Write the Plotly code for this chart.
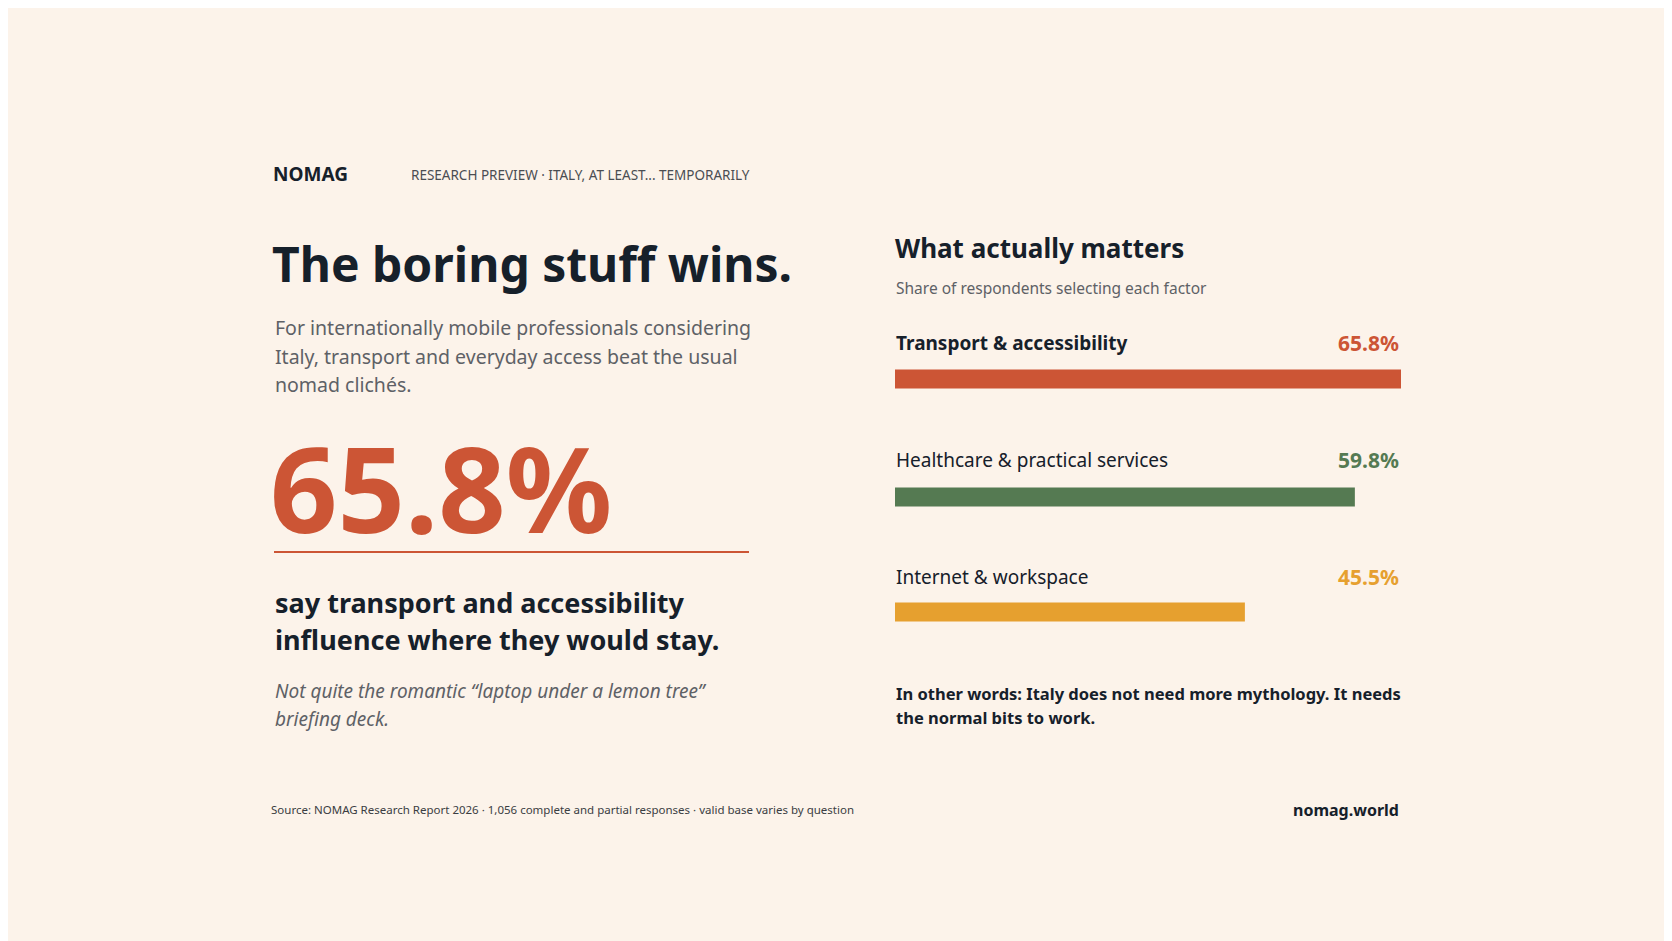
import plotly.graph_objects as go

W, H = 1672, 941
categories = ["Transport & accessibility", "Healthcare & practical services", "Internet & workspace"]
values = [65.8, 59.8, 45.5]
value_labels = ["65.8%", "59.8%", "45.5%"]
colors = ["#cc5535", "#557a52", "#e6a02f"]
bar_y = [371, 489, 604]
label_y = [335, 452, 569]

BG = "#fcf3ea"
DARK = "#16202a"
GREY = "#5e6166"
FONT = "Noto Sans"
D = 8  # page offset compensation

fig = go.Figure()
fig.add_trace(go.Bar(x=values, y=bar_y, orientation="h", width=19,
                     marker=dict(color=colors, line=dict(width=0)), hoverinfo="skip"))

X0, X1 = 887, 1393
fig.update_layout(
    width=W, height=H, margin=dict(l=0, r=0, t=0, b=0),
    paper_bgcolor=BG, plot_bgcolor=BG, showlegend=False,
    xaxis=dict(domain=[X0 / W, X1 / W], range=[0, max(values)], visible=False, fixedrange=True),
    yaxis=dict(domain=[0, 1], range=[H, 0], visible=False, fixedrange=True),
)

ann = []
def t(x, y, text, size, color=DARK, bold=False, italic=False, xanchor="left"):
    s = text
    if bold:
        s = "<b>" + s + "</b>"
    if italic:
        s = "<i>" + s + "</i>"
    ann.append(dict(x=x / W, y=1 - y / H, xref="paper", yref="paper", text=s, showarrow=False,
                    xanchor=xanchor, yanchor="middle", align="left",
                    font=dict(family=FONT, size=size, color=color)))

t(263, 166, "NOMAG", 19, bold=True)
t(401, 167, "RESEARCH PREVIEW · ITALY, AT LEAST... TEMPORARILY", 13.5, color="#4a4d52")
t(262, 256, "The boring stuff wins.", 48, bold=True)
t(265, 319, "For internationally mobile professionals considering", 19.5, color=GREY)
t(265, 348, "Italy, transport and everyday access beat the usual", 19.5, color=GREY)
t(265, 376, "nomad clichés.", 19.5, color=GREY)
t(260, 479, "65.8%", 118, color="#cc5535", bold=True)
t(265, 594, "say transport and accessibility", 27, bold=True)
t(265, 631, "influence where they would stay.", 27, bold=True)
t(265, 683, "Not quite the romantic “laptop under a lemon tree”", 19, color=GREY, italic=True)
t(265, 711, "briefing deck.", 19, color=GREY, italic=True)

t(885, 240, "What actually matters", 26, bold=True)
t(886, 280, "Share of respondents selecting each factor", 15.5, color=GREY)
for i, c in enumerate(categories):
    t(886, label_y[i], c, 19, bold=(i == 0))
    t(X1, label_y[i], value_labels[i], 21, color=colors[i], bold=True, xanchor="right")

t(886, 685, "In other words: Italy does not need more mythology. It needs", 16.5, bold=True)
t(886, 709, "the normal bits to work.", 16.5, bold=True)

t(261, 801, "Source: NOMAG Research Report 2026 · 1,056 complete and partial responses · valid base varies by question", 11.5, color="#3a3d42")
t(X1, 802, "nomag.world", 16, bold=True, xanchor="right")

fig.update_layout(annotations=ann)
fig.add_shape(type="line", xref="paper", yref="paper", x0=266 / W, x1=741 / W,
              y0=1 - 544 / H, y1=1 - 544 / H, line=dict(color="#cc5535", width=2))

fig.write_html("out.html")
